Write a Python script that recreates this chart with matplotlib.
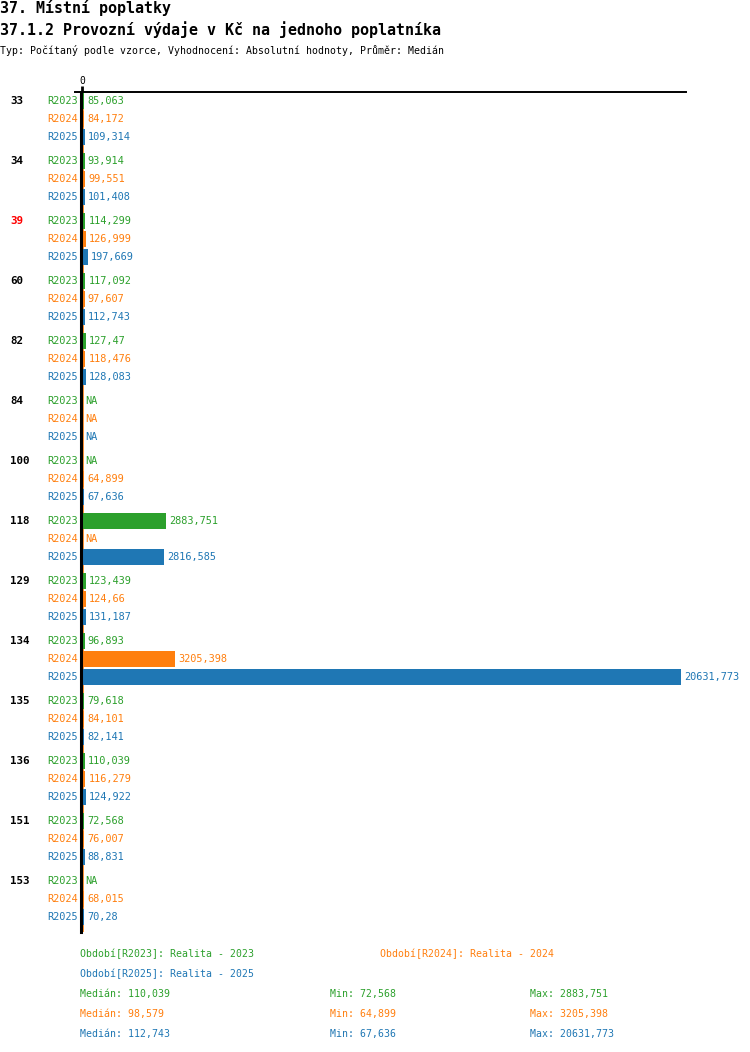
import numpy as np
import matplotlib
matplotlib.use("Agg")
import matplotlib.pyplot as plt
from matplotlib.lines import Line2D

plt.rcParams['font.family'] = ['DejaVu Sans Mono', 'DejaVu Sans']

# data
groups = ['33', '34', '39', '60', '82', '84', '100', '118', '129', '134', '135', '136', '151', '153']
highlight = '39'
series = ['R2023', 'R2024', 'R2025']
colors = ['#2ca02c', '#ff7f0e', '#1f77b4']
nan = np.nan
r2023 = [85.063, 93.914, 114.299, 117.092, 127.47, nan, nan, 2883.751, 123.439, 96.893, 79.618, 110.039, 72.568, nan]
r2024 = [84.172, 99.551, 126.999, 97.607, 118.476, nan, 64.899, nan, 124.66, 3205.398, 84.101, 116.279, 76.007, 68.015]
r2025 = [109.314, 101.408, 197.669, 112.743, 128.083, nan, 67.636, 2816.585, 131.187, 20631.773, 82.141, 124.922, 88.831, 70.28]
values = [r2023, r2024, r2025]
legend_names = ['Období[R2023]: Realita - 2023', 'Období[R2024]: Realita - 2024', 'Období[R2025]: Realita - 2025']


def fmt(v):
    s = '%.3f' % v
    s = s.rstrip('0').rstrip('.')
    return s.replace('.', ',')


W, H = 750, 1052
fig = plt.figure(figsize=(W / 100, H / 100), dpi=100)

# axes placed in pixel terms
ax_l, ax_r, ax_t, ax_b = 82, 686, 92, 932
ax = fig.add_axes([ax_l / W, 1 - ax_b / H, (ax_r - ax_l) / W, (ax_b - ax_t) / H])
ax.set_ylim(ax_b, ax_t)
vmax = np.nanmax(np.array(values))
ax.set_xlim(0, vmax * 604 / 599)

for s in ['right', 'bottom']:
    ax.spines[s].set_visible(False)
ax.spines['top'].set_linewidth(1.4)
ax.spines['left'].set_linewidth(2.2)
ax.spines['left'].set_position(('outward', 1))
ax.set_yticks([])
ax.xaxis.set_ticks_position('top')
ax.set_xticks([0])
ax.set_xticklabels(['0'])
ax.tick_params(axis='x', length=4, width=2, pad=0, labelsize=7)

# top line reaches a bit left of the zero line
fig.add_artist(Line2D([75 / W, ax_l / W], [1 - ax_t / H, 1 - ax_t / H], color='black', lw=1.4))

# thin coloured strip next to zero line
ax.axvline(vmax * 0.0012, color=colors[1], lw=1.2, zorder=1)

for g, name in enumerate(groups):
    for k in range(3):
        y = 101 + g * 60 + k * 18
        v = values[k][g]
        if np.isnan(v):
            ax.barh(y, vmax * 0.002, height=16, color='white', zorder=2)
            txt = 'NA'
            xv = 0
        else:
            ax.barh(y, v, height=16, color=colors[k], zorder=2)
            txt = fmt(v)
            xv = v
        ax.annotate(txt, (xv, y), xytext=(3, 0), textcoords='offset pixels',
                    ha='left', va='center', fontsize=7.4, color=colors[k],
                    annotation_clip=False)
        ax.annotate(series[k], (78, H - y), xycoords='figure pixels',
                    ha='right', va='center', fontsize=7.4, color=colors[k])
    y0 = 101 + g * 60
    ax.annotate(name, (10, H - y0), xycoords='figure pixels', ha='left', va='center',
                fontsize=7.8, fontweight='bold',
                color='red' if name == highlight else 'black')

# titles
fig.text(0, 1 - 8 / H, '37. Místní poplatky', fontsize=10.8, fontweight='bold', va='center')
fig.text(0, 1 - 30 / H, '37.1.2 Provozní výdaje v Kč na jednoho poplatníka', fontsize=10.8,
         fontweight='bold', va='center')
fig.text(0, 1 - 50 / H, 'Typ: Počítaný podle vzorce, Vyhodnocení: Absolutní hodnoty, Průměr: Medián',
         fontsize=7.1, va='center')

# legend / summary
fig.text(80 / W, 1 - 954 / H, legend_names[0], color=colors[0], fontsize=7.1, va='center')
fig.text(380 / W, 1 - 954 / H, legend_names[1], color=colors[1], fontsize=7.1, va='center')
fig.text(80 / W, 1 - 974 / H, legend_names[2], color=colors[2], fontsize=7.1, va='center')
for k in range(3):
    arr = np.array(values[k])
    y = 1 - (994 + k * 20) / H
    fig.text(80 / W, y, 'Medián: ' + fmt(np.nanmedian(arr)), color=colors[k], fontsize=7.1, va='center')
    fig.text(330 / W, y, 'Min: ' + fmt(np.nanmin(arr)), color=colors[k], fontsize=7.1, va='center')
    fig.text(530 / W, y, 'Max: ' + fmt(np.nanmax(arr)), color=colors[k], fontsize=7.1, va='center')

fig.savefig('out.png', dpi=100)
